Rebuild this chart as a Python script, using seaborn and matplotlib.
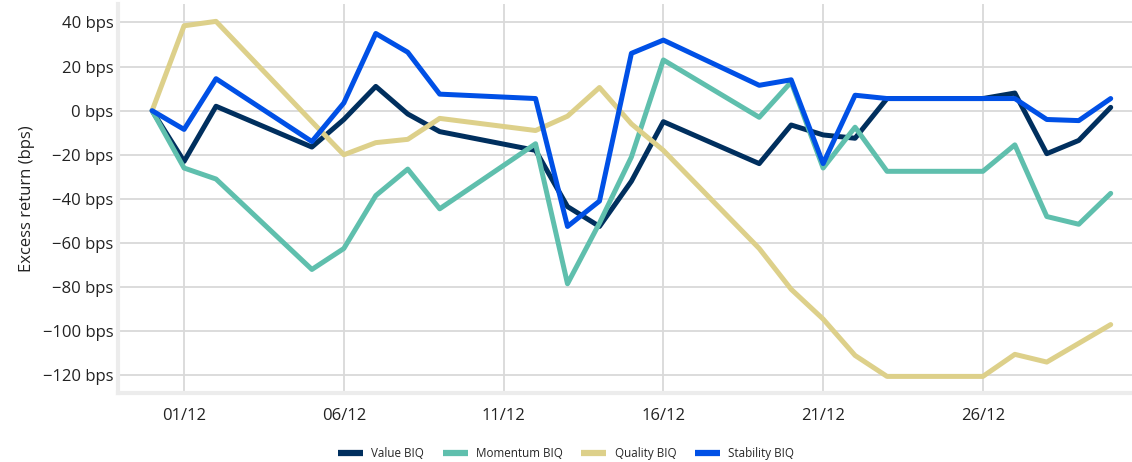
import matplotlib
matplotlib.use("Agg")
import matplotlib.pyplot as plt
import matplotlib.dates as mdates
import numpy as np
import pandas as pd
import seaborn as sns

dates = ["2022-11-30", "2022-12-01", "2022-12-02", "2022-12-05", "2022-12-06",
         "2022-12-07", "2022-12-08", "2022-12-09", "2022-12-12", "2022-12-13",
         "2022-12-14", "2022-12-15", "2022-12-16", "2022-12-19", "2022-12-20",
         "2022-12-21", "2022-12-22", "2022-12-23", "2022-12-26", "2022-12-27",
         "2022-12-28", "2022-12-29", "2022-12-30"]

value_biq = [0, -23, 2, -16.5, -4, 11, -1.5, -9.5, -18, -43.5, -52.5, -32, -5,
             -24, -6.5, -11, -12.5, 5.5, 5.5, 8, -19.5, -13.5, 1.5]
momentum_biq = [0, -26, -31, -72, -62.5, -38.5, -26.5, -44.5, -15, -78.5, -51,
                -21, 23, -3, 13, -26, -7.5, -27.5, -27.5, -15.5, -48, -51.5, -37.5]
quality_biq = [0, 38.5, 40.5, -5, -20, -14.5, -13, -3.5, -9, -2.5, 10.5, -6,
               -18, -62.5, -81, -94.5, -111, -120.5, -120.5, -110.5, -114, -105.5, -97]
stability_biq = [0, -8.5, 14.5, -14, 3.5, 35, 26.5, 7.5, 5.5, -52.5, -41, 26,
                 32, 11.5, 14, -24, 7, 5.5, 5.5, 5.5, -4, -4.5, 5.5]

series_names = ["Value BIQ", "Momentum BIQ", "Quality BIQ", "Stability BIQ"]
colors = ["#002f5e", "#5fbfad", "#ddd08a", "#0050e6"]
y_ticks = [40, 20, 0, -20, -40, -60, -80, -100, -120]
x_tick_dates = ["2022-12-01", "2022-12-06", "2022-12-11", "2022-12-16",
                "2022-12-21", "2022-12-26"]

df = pd.DataFrame({
    "date": pd.to_datetime(dates * 4),
    "value": value_biq + momentum_biq + quality_biq + stability_biq,
    "series": sum([[n] * len(dates) for n in series_names], []),
})

sns.set_theme(style="white")
plt.rcParams["font.family"] = ["Open Sans", "DejaVu Sans"]

fig = plt.figure(figsize=(11.32, 4.62), dpi=100)
ax = fig.add_axes([0.104, 0.149, 0.896, 0.842])

sns.lineplot(data=df, x="date", y="value", hue="series", hue_order=series_names,
             palette=colors, linewidth=3.6, ax=ax, legend=True)

ax.set_xlim(pd.Timestamp("2022-11-28 22:10"), pd.Timestamp("2022-12-30 16:00"))
ax.set_ylim(-128.1, 48.3)
ax.set_yticks(y_ticks)
ax.set_yticklabels([f"\u2212{abs(v)} bps" if v < 0 else f"{v} bps" for v in y_ticks])
ax.set_xticks(pd.to_datetime(x_tick_dates))
ax.xaxis.set_major_formatter(mdates.DateFormatter("%d/%m"))
ax.tick_params(axis="both", length=0, labelsize=12, colors="#222222")
ax.tick_params(axis="y", pad=3)
ax.tick_params(axis="x", pad=11)
ax.set_xlabel("")
ax.set_ylabel("Excess return (bps)", fontsize=12, color="#222222", labelpad=6)

ax.grid(True, color="#d9d9d9", linewidth=1.3)
ax.set_axisbelow(True)
for s in ["top", "right"]:
    ax.spines[s].set_visible(False)
for s in ["left", "bottom"]:
    ax.spines[s].set_color("#ececec")
    ax.spines[s].set_linewidth(3)

ax.get_legend().remove()
handles, labels = ax.get_legend_handles_labels()
leg = fig.legend(handles, labels, loc="lower center", bbox_to_anchor=(0.5, -0.018),
                 ncol=4, frameon=False, fontsize=8.4, handlelength=2.15,
                 handletextpad=0.7, columnspacing=1.6)
for line in leg.get_lines():
    line.set_linewidth(4.5)
    line.set_solid_capstyle("butt")

fig.savefig("out.png", dpi=100)
